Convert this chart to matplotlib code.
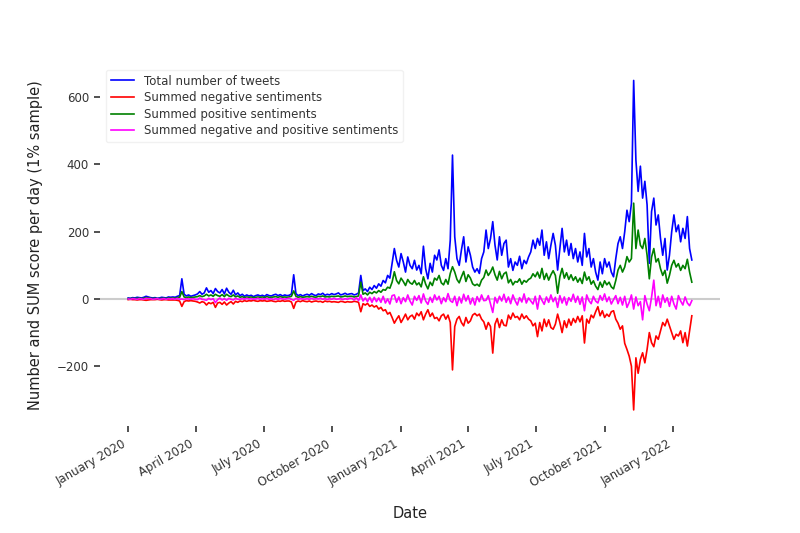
import numpy as np
import pandas as pd
import matplotlib
matplotlib.use("Agg")
import matplotlib.pyplot as plt
import matplotlib.dates as mdates

# Dates: every 3 days from 2020-01-01 (253 samples)
start_date = "2020-01-01"
n_points = 253
step = "3D"

total_tweets = [
    3, 2, 4, 3, 5, 4, 3, 5, 8, 6,
    4, 3, 4, 2, 3, 5, 4, 3, 6, 5,
    6, 5, 8, 10, 60, 14, 9, 12, 8, 10,
    12, 15, 22, 14, 18, 33, 20, 25, 16, 31,
    22, 18, 28, 15, 32, 20, 14, 26, 12, 18,
    10, 14, 8, 12, 9, 11, 7, 10, 12, 9,
    11, 8, 13, 10, 9, 12, 14, 10, 13, 9,
    12, 10, 11, 15, 72, 16, 10, 13, 9, 12,
    14, 11, 16, 12, 10, 15, 13, 17, 11, 14,
    12, 16, 13, 15, 18, 12, 14, 17, 13, 15,
    16, 12, 14, 18, 70, 25, 30, 22, 35, 28,
    40, 32, 45, 38, 55, 48, 70, 62, 105, 150,
    115, 95, 135, 110, 80, 125, 100, 90, 115, 86,
    100, 75, 157, 90, 60, 106, 80, 130, 116, 146,
    100, 85, 120, 90, 175, 428, 185, 120, 100, 146,
    185, 110, 155, 130, 95, 80, 90, 76, 120, 140,
    205, 150, 180, 230, 160, 116, 185, 130, 165, 175,
    95, 120, 85, 110, 100, 127, 90, 115, 105, 125,
    140, 175, 150, 180, 160, 205, 130, 170, 120, 160,
    195, 160, 86, 150, 210, 140, 175, 130, 165, 120,
    150, 110, 140, 100, 195, 125, 150, 95, 120, 80,
    56, 110, 75, 120, 95, 110, 80, 66, 120, 165,
    185, 150, 200, 264, 230, 284, 650, 413, 320, 395,
    300, 350, 280, 106, 260, 300, 220, 250, 180, 130,
    180, 86, 130, 200, 250, 200, 220, 170, 210, 180,
    245, 150, 116,
]

negative_sum = [
    -2, -1, -2, -2, -3, -2, -2, -3, -4, -3,
    -2, -2, -2, -1, -2, -3, -2, -2, -3, -3,
    -3, -3, -4, -6, -22, -8, -5, -6, -5, -6,
    -7, -9, -12, -8, -10, -18, -11, -14, -10, -25,
    -12, -10, -16, -9, -18, -12, -8, -15, -7, -10,
    -6, -8, -5, -7, -5, -6, -4, -6, -7, -5,
    -6, -5, -7, -6, -5, -7, -8, -6, -7, -5,
    -7, -6, -6, -9, -28, -9, -6, -8, -5, -7,
    -8, -6, -9, -7, -6, -8, -7, -10, -6, -8,
    -7, -9, -8, -9, -10, -7, -8, -10, -8, -9,
    -9, -7, -8, -10, -38, -14, -18, -13, -22, -18,
    -24, -20, -30, -25, -35, -32, -45, -40, -55, -72,
    -60, -50, -70, -58, -45, -62, -52, -48, -60, -42,
    -50, -38, -62, -45, -32, -52, -42, -58, -55, -65,
    -50, -45, -60, -48, -70, -211, -82, -60, -52, -70,
    -80, -55, -72, -65, -48, -43, -50, -45, -60, -68,
    -90, -70, -82, -161, -75, -58, -85, -62, -78, -80,
    -48, -60, -42, -55, -52, -62, -45, -58, -50, -60,
    -65, -80, -72, -112, -70, -95, -60, -82, -62, -85,
    -90, -75, -45, -70, -100, -65, -85, -60, -78, -58,
    -70, -52, -68, -50, -131, -60, -72, -48, -56, -38,
    -23, -50, -35, -55, -45, -52, -38, -35, -60, -72,
    -90, -80, -132, -150, -170, -200, -330, -175, -221, -180,
    -160, -190, -150, -100, -130, -142, -110, -120, -95, -70,
    -80, -60, -80, -100, -120, -105, -110, -95, -130, -100,
    -140, -95, -50,
]

positive_sum = [
    1, 1, 2, 1, 2, 2, 1, 2, 4, 3,
    2, 1, 2, 1, 1, 2, 2, 1, 3, 2,
    3, 2, 4, 5, 22, 6, 4, 6, 4, 5,
    6, 7, 10, 7, 9, 14, 9, 12, 8, 14,
    10, 8, 13, 7, 14, 9, 7, 12, 6, 9,
    5, 7, 4, 6, 5, 6, 4, 5, 6, 5,
    6, 4, 7, 5, 5, 6, 7, 5, 7, 5,
    6, 5, 6, 8, 24, 8, 5, 7, 5, 6,
    7, 6, 8, 6, 5, 8, 7, 9, 6, 7,
    6, 8, 7, 8, 9, 6, 7, 9, 7, 8,
    8, 6, 7, 9, 50, 14, 18, 12, 20, 16,
    22, 18, 25, 20, 28, 26, 35, 32, 50, 81,
    55, 45, 62, 52, 40, 58, 48, 44, 55, 42,
    48, 36, 66, 44, 30, 50, 40, 62, 56, 70,
    48, 42, 58, 44, 76, 96, 80, 58, 48, 66,
    82, 52, 72, 62, 45, 40, 44, 38, 56, 64,
    86, 70, 80, 95, 72, 56, 82, 60, 75, 80,
    48, 58, 42, 52, 50, 60, 44, 55, 50, 58,
    62, 75, 66, 80, 62, 91, 58, 76, 56, 72,
    84, 70, 17, 66, 91, 62, 78, 58, 72, 55,
    66, 50, 62, 46, 80, 56, 66, 44, 54, 38,
    28, 50, 35, 54, 42, 50, 36, 30, 55, 86,
    100, 80, 95, 126, 110, 120, 285, 150, 205, 160,
    150, 180, 130, 60, 125, 150, 110, 120, 90, 70,
    85, 47, 70, 100, 115, 95, 105, 85, 100, 90,
    118, 80, 50,
]

combined_sum = [
    0, -1, 1, 0, -1, 1, 0, -1, 2, 1,
    1, -1, 0, 1, -1, 0, 1, -1, 1, 0,
    1, -1, 2, -1, 0, -2, 1, 0, -1, 1,
    -1, -2, 3, -1, -2, -4, 2, -2, 1, -11,
    -2, 3, -3, 1, -4, 2, -1, -3, 2, -1,
    -1, 1, -1, 2, 0, 1, -1, 0, 2, -1,
    1, -1, 2, -1, 1, -2, 1, -1, 2, 0,
    -1, 1, 2, -1, -4, 2, -1, 1, 0, -1,
    1, -1, 2, -1, 1, 0, 2, -1, 1, -2,
    1, -1, 2, -1, 0, 1, -2, 1, -1, 2,
    2, -3, 4, -5, 12, -6, 3, -8, 5, -10,
    5, -8, 3, -10, 8, -12, 0, -15, 10, 12,
    -10, 6, -14, 4, -8, 12, -6, -18, 8, -4,
    10, -12, 15, -6, -16, 5, -10, 12, -3, 8,
    -14, 4, -8, 16, -5, -10, 8, -20, 6, -12,
    14, -6, 10, -15, 3, -18, 7, -8, 12, -5,
    -4, 10, -15, -40, 5, -12, 8, -6, 14, -10,
    6, -14, 12, -5, -18, 4, -9, 15, -12, 3,
    -6, -15, 8, -30, 10, -4, -16, 6, -10, 12,
    -8, 5, -25, 10, -12, 6, -18, 4, -7, 14,
    -10, 8, -16, 6, -35, 12, -5, -14, 8, -6,
    -12, 10, -4, 15, -8, 6, -15, -2, 10, -14,
    5, -18, 8, -25, -10, 12, -30, 6, -20, -8,
    -62, 10, -15, -35, 5, 56, -20, 8, -25, 12,
    -10, 4, -22, 8, -15, -30, 10, -6, -18, 6,
    -12, -20, -5,
]

series_labels = [
    "Total number of tweets",
    "Summed negative sentiments",
    "Summed positive sentiments",
    "Summed negative and positive sentiments",
]
series_colors = ["blue", "red", "green", "magenta"]

dates = pd.date_range(start_date, periods=n_points, freq=step)

fig, ax = plt.subplots(figsize=(8, 5.33), dpi=100)
ax.axhline(0, color="#cccccc", lw=1.5, zorder=0)
for vals, lab, col in zip([total_tweets, negative_sum, positive_sum, combined_sum],
                          series_labels, series_colors):
    ax.plot(dates, vals, color=col, lw=1.2, label=lab)

ax.xaxis.set_major_locator(mdates.MonthLocator(bymonth=[1, 4, 7, 10]))
ax.xaxis.set_major_formatter(mdates.DateFormatter("%B %Y"))
ax.set_yticks([-200, 0, 200, 400, 600])

for s in ax.spines.values():
    s.set_visible(False)
ax.tick_params(axis="both", length=4.5, width=1.1, color="#222222",
               labelsize=8.5, labelcolor="#333333")

ax.set_xlabel("Date", fontsize=10.5, color="#222222", labelpad=12)
ax.set_ylabel("Number and SUM score per day (1% sample)", fontsize=10.5,
              color="#222222", labelpad=10)

leg = ax.legend(loc="upper left", fontsize=8.5, frameon=True, fancybox=True,
                borderaxespad=0.5, labelspacing=0.3)
leg.get_frame().set_edgecolor("#eeeeee")
for t in leg.get_texts():
    t.set_color("#333333")

fig.autofmt_xdate()
fig.savefig("out.png", dpi=100)
